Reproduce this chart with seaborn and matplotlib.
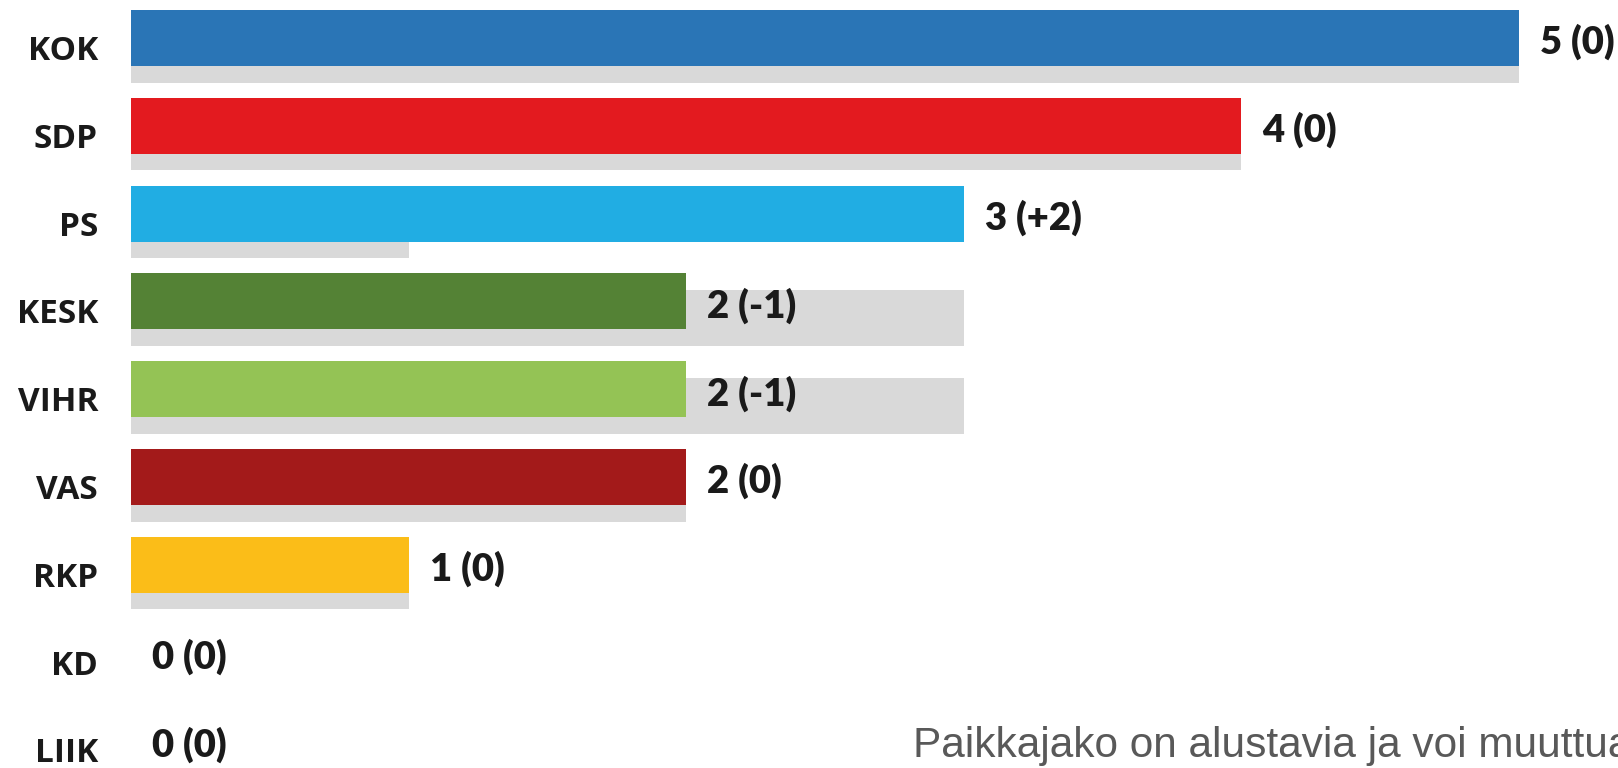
import matplotlib
matplotlib.use("Agg")
import matplotlib.pyplot as plt
import seaborn as sns
import pandas as pd

# ---- data ----
parties = ["KOK", "SDP", "PS", "KESK", "VIHR", "VAS", "RKP", "KD", "LIIK"]
seats = [5, 4, 3, 2, 2, 2, 1, 0, 0]
prev_seats = [5, 4, 1, 3, 3, 2, 1, 0, 0]
change_labels = ["0", "0", "+2", "-1", "-1", "0", "0", "0", "0"]
party_colors = ["#2A75B6", "#E31A1F", "#21ADE3", "#548235",
                "#94C355", "#A31A1A", "#FBBD18", "#999999", "#999999"]
footer = "Paikkajako on alustavia ja voi muuttua."

W, H, DPI = 1618, 768, 100
PX_ROW = 87.8           # row pitch in px
BAR_H = 56 / PX_ROW     # coloured bar thickness in row units
GRAY_SHIFT = 16.5 / PX_ROW

df = pd.DataFrame({"party": parties, "seats": seats, "prev": prev_seats})

sns.set_theme(style="white")
fig = plt.figure(figsize=(W / DPI, H / DPI), dpi=DPI)
left_px = 131
ax = fig.add_axes([left_px / W, 0, 1 - left_px / W, 1])

# previous result: grey bar behind, nudged down
sns.barplot(data=df, y="party", x="prev", orient="h", color="#D9D9D9",
            width=BAR_H, saturation=1, ax=ax)
n_gray = len(ax.patches)
for p in ax.patches:
    p.set_y(p.get_y() + GRAY_SHIFT)
    p.set_linewidth(0)

# current result
sns.barplot(data=df, y="party", x="seats", hue="party", palette=party_colors,
            orient="h", width=BAR_H, saturation=1, legend=False, ax=ax)
for p in ax.patches[n_gray:]:
    p.set_linewidth(0)

px_per_unit = 1388 / 5
ax.set_xlim(0, (W - left_px) / px_per_unit)
top = -38 / PX_ROW
ax.set_ylim(top + H / PX_ROW, top)
ax.axis("off")

val_off = 21 / px_per_unit
for i, (name, s, c) in enumerate(zip(parties, seats, change_labels)):
    ax.text(-33 / (W - left_px), i + 22 / PX_ROW, name,
            transform=ax.get_yaxis_transform(), ha="right", va="baseline",
            fontsize=24, fontweight="bold", family=["Open Sans", "DejaVu Sans"],
            color="#1a1a1a")
    ax.text(s + val_off, i + 16 / PX_ROW, f"{s} ({c})", ha="left", va="baseline",
            fontsize=27.5, fontweight="heavy",
            family=["Lato", "DejaVu Sans"], color="#1a1a1a")

fig.text(913 / W, 11 / H, footer, ha="left", va="baseline", fontsize=30.5,
         family=["Liberation Sans", "DejaVu Sans"], color="#595959")

fig.savefig("out.png", dpi=DPI)
